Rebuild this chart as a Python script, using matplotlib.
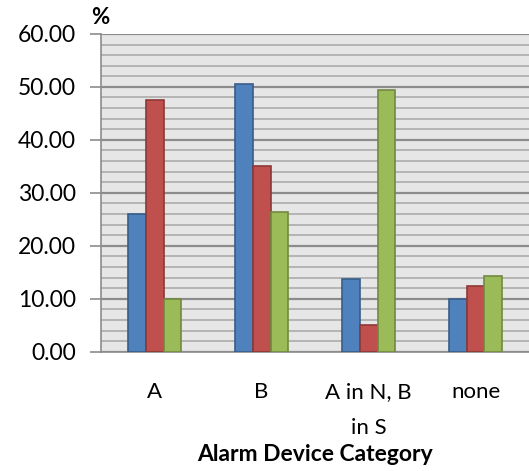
import matplotlib.pyplot as plt
import numpy as np
from matplotlib.ticker import MultipleLocator

plt.rcParams['font.family'] = ['Lato', 'DejaVu Sans']

categories = ["A", "B", "A in N, B\nin S", "none"]
series_1 = [26.0, 50.6, 13.7, 10.0]
series_2 = [47.5, 35.0, 5.0, 12.5]
series_3 = [10.0, 26.3, 49.4, 14.4]

faces = ["#4F81BD", "#C0504D", "#9BBB59"]
edges = ["#385D8A", "#8C3836", "#71893F"]

fig = plt.figure(figsize=(5.29, 4.71), dpi=100)
ax = fig.add_axes([0.191, 0.253, 0.809, 0.675])
ax.set_facecolor("#E6E6E6")

x = np.arange(len(categories))
w = 0.168
for i, vals in enumerate([series_1, series_2, series_3]):
    ax.bar(x + (i - 1) * w, vals, width=w, color=faces[i],
           edgecolor=edges[i], linewidth=1.2, zorder=3)

ax.set_xlim(-0.5, 3.5)
ax.set_ylim(0, 60)
ax.yaxis.set_major_locator(MultipleLocator(10))
ax.yaxis.set_minor_locator(MultipleLocator(2))
ax.yaxis.set_major_formatter(lambda v, p: f"{v:.2f}")
ax.grid(axis="y", which="major", color="#8C8C8C", linewidth=1.6, zorder=1)
ax.grid(axis="y", which="minor", color="#B4B4B4", linewidth=1.4, zorder=1)

ax.set_xticks(x)
ax.set_xticklabels(categories, fontsize=16, linespacing=2.0)
ax.tick_params(axis="x", length=0, pad=22)
ax.tick_params(axis="y", which="major", length=8, width=1.2, color="#8C8C8C",
               labelsize=16.5, pad=10)
ax.tick_params(axis="y", which="minor", length=0)

for s in ["top", "right"]:
    ax.spines[s].set_visible(False)
ax.spines["left"].set_color("#8C8C8C")
ax.spines["left"].set_linewidth(1.2)
ax.spines["bottom"].set_color("#8C8C8C")
ax.spines["bottom"].set_linewidth(1.2)

ax.set_xlabel("Alarm Device Category", fontsize=16.5, fontweight="bold", labelpad=4)
fig.text(0.173, 0.94, "%", fontsize=16, fontweight="bold", ha="left", va="bottom")

fig.savefig("out.png", dpi=100)
